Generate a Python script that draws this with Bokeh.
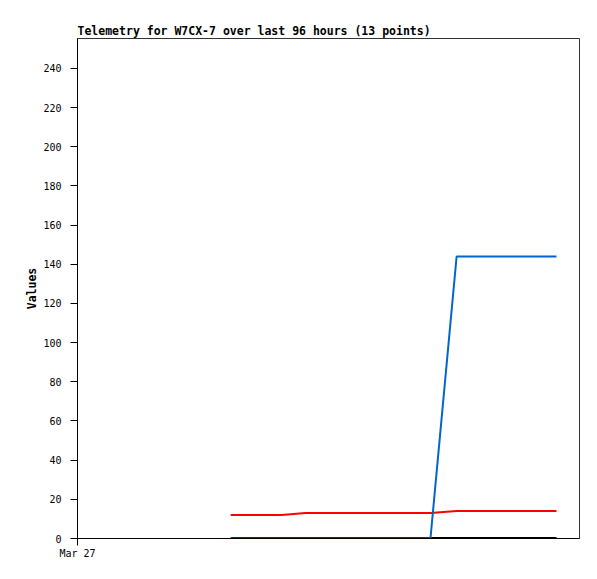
from bokeh.plotting import figure
from bokeh.models import FixedTicker, Range1d
from bokeh.embed import file_html
from bokeh.resources import INLINE

# hours since Mar 27 00:00
hours = [29.3, 34.0, 39.0, 43.6, 48.5, 53.5, 58.0, 62.5, 67.5, 72.5, 79.0, 85.0, 91.6]
series_red = [12, 12, 12, 13, 13, 13, 13, 13, 13, 14, 14, 14, 14]
series_blue = [0, 0, 0, 0, 0, 0, 0, 0, 0, 144, 144, 144, 144]
series_black = [0, 0, 0, 0, 0, 0, 0, 0, 0, 0, 0, 0, 0]
y_ticks = [0, 20, 40, 60, 80, 100, 120, 140, 160, 180, 200, 220, 240]
x_tick_hours = [0]
x_tick_labels = ["Mar 27"]

MONO = "DejaVu Sans Mono"

p = figure(frame_width=502, frame_height=500, output_backend="svg", toolbar_location=None,
           x_range=Range1d(0, 96), y_range=Range1d(0, 255.3),
           title="Telemetry for W7CX-7 over last 96 hours (13 points)",
           min_border_left=77, min_border_top=38, min_border_right=10, min_border_bottom=30)

p.title.text_font = MONO
p.title.text_font_size = "11.5px"
p.title.text_font_style = "bold"
p.title.text_color = "black"
p.title.align = "left"
p.title.offset = 0
p.title.standoff = 2

p.xgrid.visible = False
p.ygrid.visible = False
p.outline_line_color = "#333333"
p.outline_line_width = 1
p.background_fill_color = "white"
p.border_fill_color = "white"

p.yaxis.ticker = FixedTicker(ticks=y_ticks)
p.yaxis.axis_label = "Values"
p.yaxis.axis_label_text_font = MONO
p.yaxis.axis_label_text_font_size = "11.5px"
p.yaxis.axis_label_text_font_style = "bold"
p.yaxis.axis_label_text_color = "black"
p.yaxis.axis_label_standoff = 1
p.xaxis.ticker = FixedTicker(ticks=x_tick_hours)
p.xaxis.major_label_overrides = {t: l for t, l in zip(x_tick_hours, x_tick_labels)}

for ax in (p.xaxis, p.yaxis):
    ax.major_tick_out = 7
    ax.major_tick_in = 0
    ax.minor_tick_out = 0
    ax.minor_tick_in = 0
    ax.axis_line_color = "black"
    ax.major_tick_line_color = "black"
    ax.major_label_text_font = MONO
    ax.major_label_text_font_size = "10px"
    ax.major_label_text_color = "black"
p.yaxis.major_label_standoff = 9
p.xaxis.major_label_standoff = 2

p.line(hours, series_black, line_color="black", line_width=3)
p.line(hours, series_red, line_color="#ff0000", line_width=2)
p.line(hours, series_blue, line_color="#0066cc", line_width=2)

open("out.html", "w").write(file_html(p, INLINE))
